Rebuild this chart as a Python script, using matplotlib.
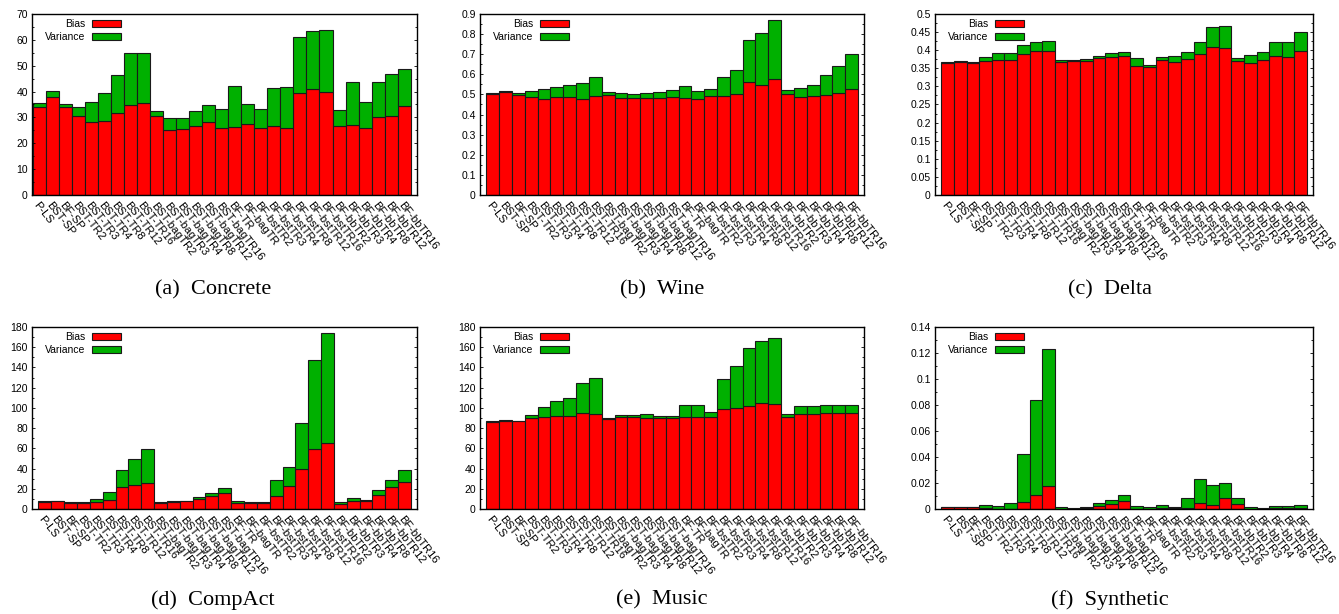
import numpy as np
import matplotlib
matplotlib.use('Agg')
import matplotlib.pyplot as plt
from matplotlib.patches import Patch
from matplotlib.ticker import AutoMinorLocator, MultipleLocator, FuncFormatter

plt.rcParams['font.family'] = ['Liberation Sans', 'DejaVu Sans']

metodos = ['P-LS', 'BST-SP', 'BF-SP', 'BST-TR2', 'BST-TR3', 'BST-TR4', 'BST-TR8',
           'BST-TR12', 'BST-TR16', 'BST-bagTR2', 'BST-bagTR3', 'BST-bagTR4',
           'BST-bagTR8', 'BST-bagTR12', 'BST-bagTR16', 'BF-TR', 'BF-bagTR',
           'BF-bstTR2', 'BF-bstTR3', 'BF-bstTR4', 'BF-bstTR8', 'BF-bstTR12',
           'BF-bstTR16', 'BF-bbTR2', 'BF-bbTR3', 'BF-bbTR4', 'BF-bbTR8',
           'BF-bbTR12', 'BF-bbTR16']

# bias / variance por conjunto de dados
concrete_bias = [34.2, 37.8, 33.9, 30.7, 28.1, 28.7, 31.6, 34.8, 35.5, 30.4, 25.0, 25.4, 26.8, 28.2, 25.8,
                 26.4, 27.5, 25.8, 26.8, 25.9, 39.3, 40.9, 39.7, 26.6, 27.2, 25.9, 30.3, 30.4, 34.4]
concrete_var = [1.4, 2.3, 1.3, 3.5, 7.7, 10.6, 14.9, 20.0, 19.4, 2.1, 4.7, 4.4, 5.6, 6.5, 7.3,
                15.9, 7.7, 7.6, 14.6, 16.0, 21.7, 22.5, 24.1, 6.4, 16.4, 10.1, 13.5, 16.5, 14.5]

wine_bias = [0.504, 0.511, 0.499, 0.486, 0.479, 0.489, 0.486, 0.477, 0.492, 0.499, 0.484, 0.484, 0.482,
             0.482, 0.486, 0.484, 0.477, 0.494, 0.494, 0.501, 0.560, 0.547, 0.578, 0.501, 0.486, 0.491,
             0.499, 0.509, 0.525]
wine_var = [0.005, 0.008, 0.007, 0.030, 0.050, 0.046, 0.061, 0.082, 0.096, 0.015, 0.022, 0.017, 0.024,
            0.032, 0.036, 0.060, 0.042, 0.035, 0.091, 0.119, 0.212, 0.260, 0.291, 0.021, 0.044, 0.056,
            0.099, 0.131, 0.176]

delta_bias = [0.366, 0.367, 0.366, 0.369, 0.372, 0.372, 0.389, 0.397, 0.398, 0.368, 0.369, 0.370, 0.378,
              0.382, 0.384, 0.355, 0.353, 0.372, 0.367, 0.375, 0.389, 0.408, 0.405, 0.369, 0.364, 0.374,
              0.384, 0.380, 0.398]
delta_var = [0.002, 0.003, 0.002, 0.011, 0.019, 0.019, 0.024, 0.027, 0.028, 0.005, 0.005, 0.007, 0.007,
             0.009, 0.010, 0.023, 0.007, 0.010, 0.018, 0.021, 0.035, 0.057, 0.062, 0.010, 0.022, 0.020,
             0.040, 0.044, 0.051]

compact_bias = [7.3, 7.9, 5.9, 5.9, 7.3, 8.6, 22.1, 24.1, 25.4, 5.6, 6.6, 7.6, 10.2, 13.2, 16.2,
                6.3, 5.9, 5.6, 13.2, 23.1, 39.9, 59.7, 65.6, 5.3, 8.2, 7.6, 13.8, 22.1, 27.0]
compact_var = [0.9, 0.3, 1.4, 1.4, 2.9, 8.5, 16.1, 25.0, 33.6, 1.0, 1.0, 0.6, 2.0, 2.6, 4.6,
               1.6, 1.4, 1.7, 15.8, 18.8, 45.5, 87.4, 108.5, 1.3, 3.0, 1.6, 5.3, 6.6, 11.9]

music_bias = [86.4, 87.4, 86.7, 89.7, 91.3, 92.3, 92.0, 95.0, 94.0, 89.0, 90.7, 90.7, 90.3, 90.3, 90.3,
              91.0, 91.0, 91.0, 98.9, 99.9, 101.9, 104.5, 103.9, 90.7, 94.0, 94.0, 95.0, 95.0, 95.0]
music_var = [0.6, 0.3, 0.3, 3.6, 9.3, 14.5, 17.5, 29.6, 35.6, 1.3, 2.3, 2.3, 3.3, 1.7, 2.0,
             11.9, 11.9, 5.3, 30.0, 41.5, 57.3, 62.0, 65.6, 3.3, 8.2, 8.2, 7.9, 7.9, 7.9]

synth_bias = [0.0013, 0.0013, 0.0013, 0.0005, 0.0003, 0.0003, 0.0056, 0.0110, 0.0179, 0.0003, 0.0003,
              0.0005, 0.0023, 0.0038, 0.0064, 0.0003, 0.0003, 0.0005, 0.0005, 0.0010, 0.0046, 0.0031,
              0.0085, 0.0041, 0.0003, 0.0003, 0.0005, 0.0008, 0.0010]
synth_var = [0.0002, 0.0002, 0.0002, 0.0028, 0.0020, 0.0041, 0.0367, 0.0726, 0.1054, 0.0015, 0.0005,
             0.0008, 0.0023, 0.0034, 0.0046, 0.0020, 0.0010, 0.0026, 0.0010, 0.0072, 0.0185, 0.0154,
             0.0118, 0.0046, 0.0010, 0.0007, 0.0016, 0.0018, 0.0021]

titulos = ['(a)  Concrete', '(b)  Wine', '(c)  Delta', '(d)  CompAct', '(e)  Music', '(f)  Synthetic']
ymax = [70, 0.9, 0.5, 180, 180, 0.14]
ypasso = [10, 0.1, 0.05, 20, 20, 0.02]

dados = [(concrete_bias, concrete_var), (wine_bias, wine_var), (delta_bias, delta_var),
         (compact_bias, compact_var), (music_bias, music_var), (synth_bias, synth_var)]

W, H = 1339, 614
fig = plt.figure(figsize=(W / 100, H / 100), dpi=100)

# caixas dos eixos em pixels: (esquerda, topo, largura, altura)
caixas = [(32, 14, 385, 181), (480, 14, 384, 181), (935, 14, 378, 181),
          (32, 327, 385, 182), (480, 327, 384, 182), (935, 327, 378, 182)]
xleg = [213, 662, 1110, 213, 662, 1110]
yleg = [290, 290, 290, 600, 600, 600]

vermelho = '#ff0000'
verde = '#00b000'
borda = '#1a1a1a'
x = np.arange(len(metodos))

for i, (bias, var) in enumerate(dados):
    l, t, w, h = caixas[i]
    ax = fig.add_axes([l / W, 1 - (t + h) / H, w / W, h / H])
    ax.bar(x, bias, width=1.0, color=vermelho, edgecolor=borda, lw=0.8)
    ax.bar(x, var, bottom=bias, width=1.0, color=verde, edgecolor=borda, lw=0.8)

    ax.set_ylim(0, ymax[i])
    if i == 0:
        ax.set_xlim(-0.55, len(metodos) - 0.02)
    else:
        ax.set_xlim(-1.0, len(metodos) - 0.03)
    ax.yaxis.set_major_locator(MultipleLocator(ypasso[i]))
    ax.yaxis.set_minor_locator(AutoMinorLocator(2))
    ax.yaxis.set_major_formatter(FuncFormatter(lambda v, p: '%g' % round(v, 4)))
    ax.tick_params(axis='y', which='both', direction='in', right=True, labelsize=7.5, pad=3)
    ax.tick_params(axis='y', which='major', length=2.5, width=0.6)
    ax.tick_params(axis='y', which='minor', length=1.5, width=0.6)
    ax.tick_params(axis='x', length=0, pad=4)
    ax.set_xticks(x)
    ax.set_xticklabels(metodos, rotation=-52, ha='left', va='top',
                       rotation_mode='anchor', fontsize=8)
    for s in ax.spines.values():
        s.set_linewidth(1.0)

    alcas = [Patch(facecolor=vermelho, edgecolor=borda, lw=0.8),
             Patch(facecolor=verde, edgecolor=borda, lw=0.8)]
    ax.legend(alcas, ['Bias', 'Variance'], loc='upper right', markerfirst=False,
              frameon=False, fontsize=7.5, borderpad=0, borderaxespad=0,
              handlelength=2.8, handleheight=0.6, handletextpad=0.6, labelspacing=0.3,
              bbox_to_anchor=(89 / w, 1 - 5 / h))

    fig.text(xleg[i] / W, 1 - yleg[i] / H, titulos[i], ha='center', va='center',
             fontsize=16, family='Liberation Serif')

plt.savefig('out.png', dpi=100)
